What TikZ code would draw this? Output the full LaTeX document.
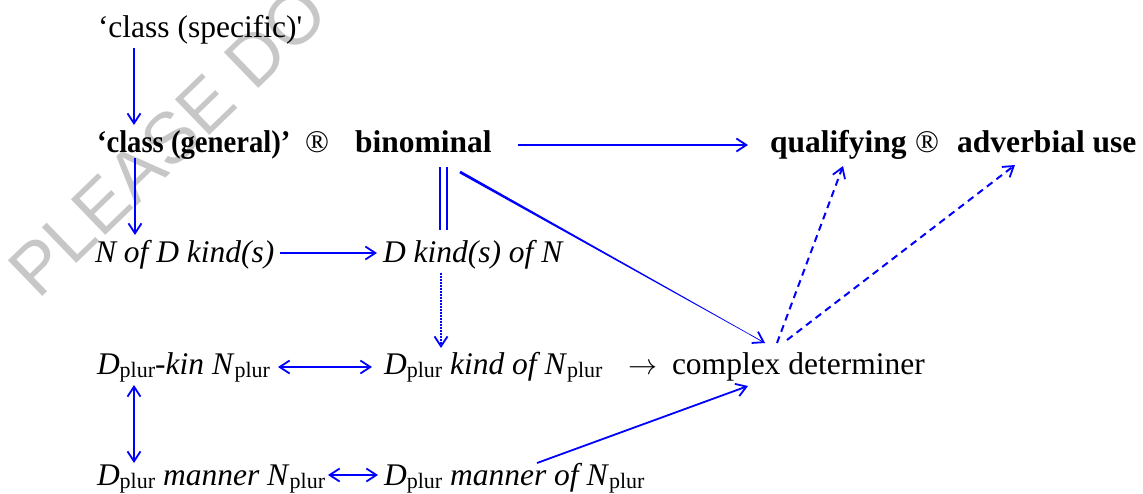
\documentclass[tikz,border=0pt]{standalone}
\usepackage{fontspec}
\setmainfont{Liberation Serif}[Ligatures=TeXOff]
\newfontfamily\wmfont{Liberation Sans}
\usetikzlibrary{arrows.meta,calc}
\newcommand{\plr}{\raisebox{-3pt}{\fontsize{22}{24}\selectfont\upshape plur}}
\tikzset{
  txt/.style={inner sep=0pt, outer sep=0pt, anchor=base west, font=\fontsize{31.5}{36}\selectfont},
  bftxt/.style={txt, font=\fontsize{31.5}{36}\selectfont\bfseries},
  ittxt/.style={txt, font=\fontsize{31.5}{36}\selectfont\itshape},
  wmark/.style={inner sep=0pt, anchor=base west, text=black!22, font=\fontsize{72}{72}\selectfont\wmfont},
  link/.style={blue, line width=1.8pt},
  tipv/.tip={Straight Barb[length=10pt,width=13pt]},
  arr/.style={link, -tipv},
  darr/.style={link, tipv-tipv},
  dotarr/.style={blue, line width=1.4pt, dash pattern=on 1.6pt off 1.4pt, -{Straight Barb[length=10pt,width=13pt,line width=1.8pt]}},
  dasharr/.style={blue, line width=2pt, dash pattern=on 7pt off 5pt, -{Straight Barb[length=10pt,width=13pt,line width=1.8pt]}},
}
\begin{document}
\begin{tikzpicture}[x=1pt,y=-1pt]
\useasboundingbox (0,0) rectangle (1143,493);
\begin{scope}
  \clip (0,0) rectangle (1143,493);
  \node[wmark, rotate=44] (wm) at (38,301) {PLEASE DO};
\end{scope}

% nodes
\node[txt] (spec) at (98,37) {‘class (specific)'};
\node[bftxt] (gen) at (97,152) {\scalebox{0.91}[1]{‘class (general)’}};
\node[txt] (r1) at (305,152) {®};
\node[bftxt] (bin) at (355,152) {binominal};
\node[bftxt] (qual) at (770,152) {qualifying};
\node[txt] (r2) at (915,152) {®};
\node[bftxt] (adv) at (957,152) {adverbial use};
\node[ittxt] (nofd) at (95,262) {N of D kind(s)};
\node[ittxt] (dkind) at (383,262) {D kind(s) of N};
\node[txt] (kin) at (97,374) {\textit{D}\plr\textit{-kin N}\plr};
\node[txt] (kindof) at (384,374) {\textit{D}\plr\ \textit{kind of N}\plr};
\node[txt] (to) at (628,374) {\resizebox{29pt}{!}{$\rightarrow$}};
\node[txt] (cd) at (672,374) {complex determiner};
\node[txt] (man) at (97,485) {\textit{D}\plr\ \textit{manner N}\plr};
\node[txt] (manof) at (384,485) {\textit{D}\plr\ \textit{manner of N}\plr};

% connectors
\draw[arr] ([shift={(36,11)}]spec.base west) -- ([shift={(37,-27)}]gen.base west);
\draw[arr] ([shift={(38,6)}]gen.base west) -- ([shift={(40,-27)}]nofd.base west);
\draw[arr] ([shift={(185,-9)}]nofd.base west) -- ([shift={(-6,-9)}]dkind.base west);
\draw[link] ([shift={(85,15)}]bin.base west) -- ([shift={(57,-32)}]dkind.base west);
\draw[link] ([shift={(92,15)}]bin.base west) -- ([shift={(64,-32)}]dkind.base west);
\draw[dotarr] ([shift={(58,11)}]dkind.base west) -- ([shift={(57,-26)}]kindof.base west);
\draw[darr] ([shift={(181,-7)}]kin.base west) -- ([shift={(-12,-7)}]kindof.base west);
\draw[darr] ([shift={(37,11)}]kin.base west) -- ([shift={(37,-22)}]man.base west);
\draw[darr] ([shift={(231,-10)}]man.base west) -- ([shift={(-6,-10)}]manof.base west);
\draw[arr] ([shift={(153,-22)}]manof.base west) -- ([shift={(76,12)}]cd.base west);
\draw[arr] ([shift={(163,-7)}]bin.base west) -- ([shift={(-22,-7)}]qual.base west);
\draw[dasharr] ([shift={(105,-31)}]cd.base west) -- ([shift={(73,14)}]qual.base west);
\draw[dasharr] ([shift={(115,-34)}]cd.base west) -- ([shift={(58,13)}]adv.base west);

% tapered connector binominal -> complex determiner
\coordinate (t1) at ([shift={(105,20)}]bin.base west);
\coordinate (t2) at ([shift={(93,-31)}]cd.base west);
\fill[blue] ($(t1)!1.4pt!90:(t2)$) -- ($(t1)!1.4pt!-90:(t2)$) -- ($(t2)!0.25pt!90:(t1)$) -- ($(t2)!0.25pt!-90:(t1)$) -- cycle;
\draw[blue, line width=0.4pt, -{Straight Barb[length=10pt,width=13pt,line width=1.8pt]}] ($(t1)!0.95!(t2)$) -- (t2);
\end{tikzpicture}
\end{document}
